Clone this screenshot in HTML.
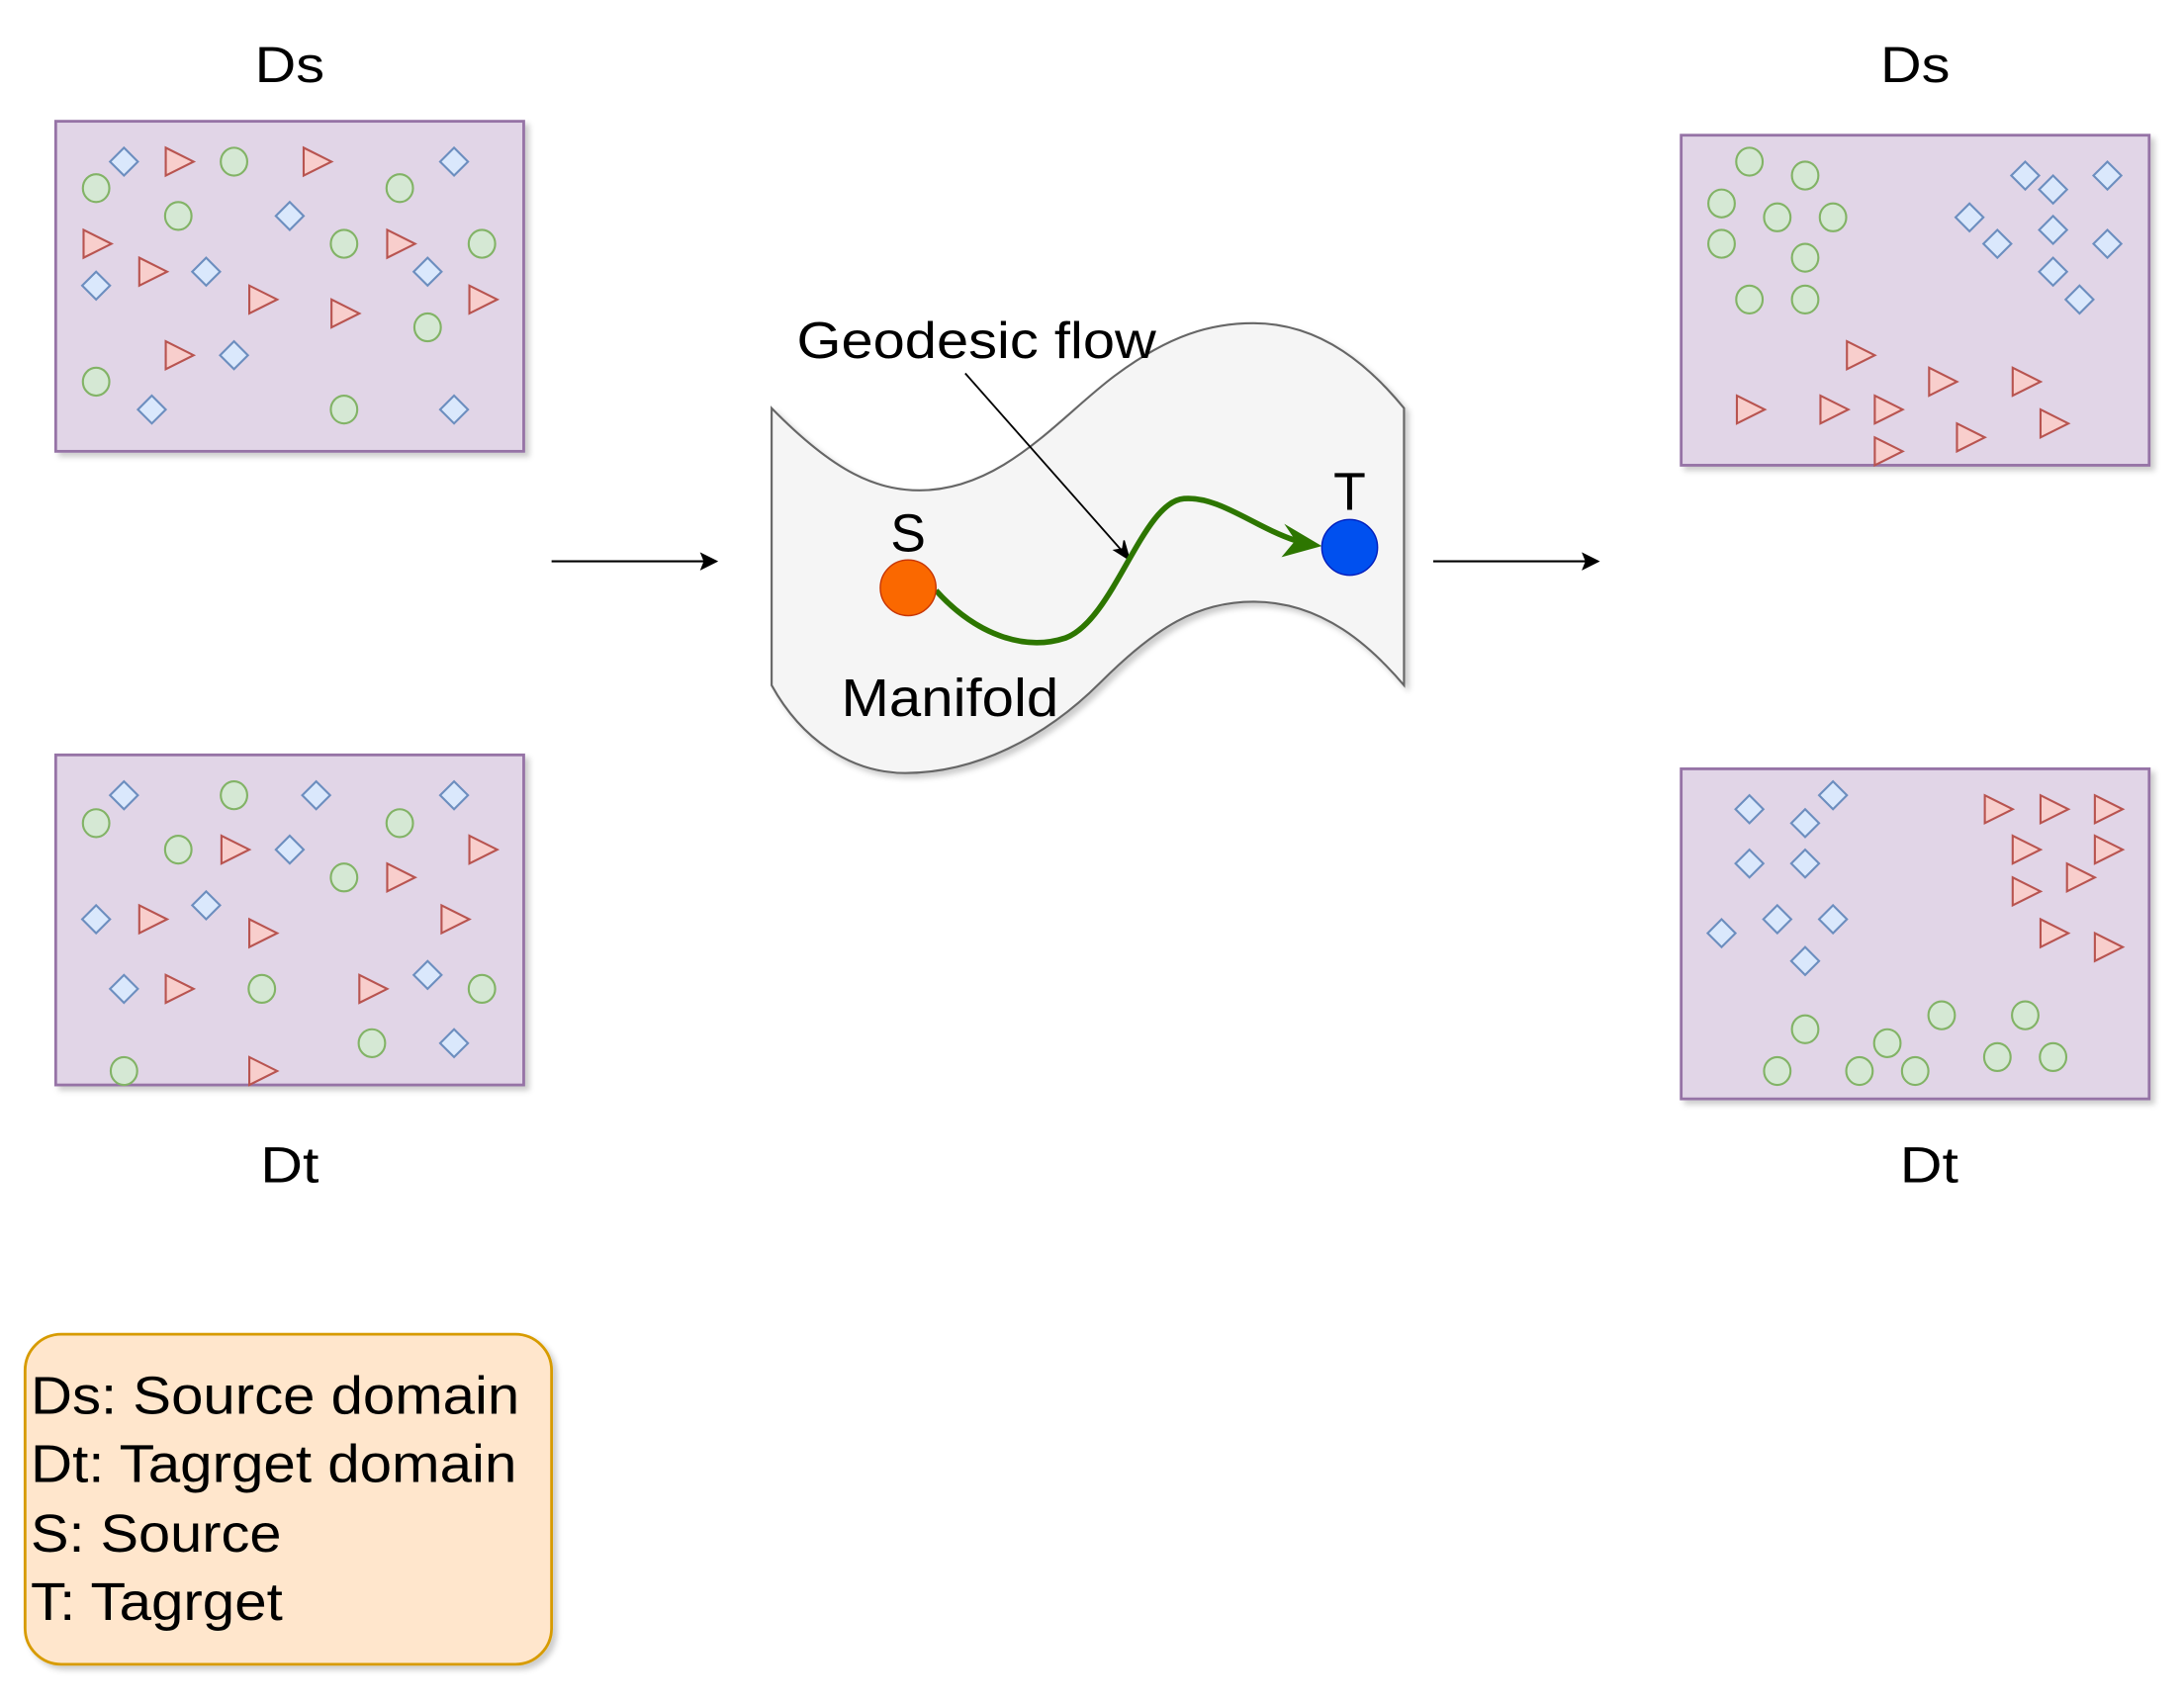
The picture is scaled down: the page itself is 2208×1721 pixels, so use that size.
<!DOCTYPE html>
<html><head><meta charset="utf-8"><style>html,body{margin:0;padding:0;background:#fff}svg{display:block}</style></head>
<body>
<svg width="2208" height="1721" viewBox="0 0 1568 1222" xmlns="http://www.w3.org/2000/svg" xmlns:xlink="http://www.w3.org/1999/xlink" font-family="Liberation Sans, sans-serif">
<defs>
<filter id="sh" x="-10%" y="-10%" width="130%" height="130%"><feDropShadow dx="3" dy="3" stdDeviation="2" flood-color="#000" flood-opacity="0.2"/></filter>
<path id="d" d="M0,-10 L10,0 L0,10 L-10,0Z" fill="#dae8fc" stroke="#6c8ebf" stroke-width="1.5"/>
<path id="t" d="M-9,-10 L11,0 L-9,10Z" fill="#f8cecc" stroke="#b85450" stroke-width="1.5"/>
<ellipse id="c" cx="0" cy="0" rx="9.5" ry="10" fill="#d5e8d4" stroke="#82b366" stroke-width="1.5"/>
</defs>
<g font-size="36" text-anchor="middle" fill="#000">
<text x="208" y="59" textLength="50" lengthAdjust="spacingAndGlyphs">Ds</text>
<text x="1375" y="59" textLength="50" lengthAdjust="spacingAndGlyphs">Ds</text>
<text x="208" y="849" textLength="42" lengthAdjust="spacingAndGlyphs">Dt</text>
<text x="1385" y="849" textLength="42" lengthAdjust="spacingAndGlyphs">Dt</text>
</g>
<g fill="#e1d5e7" stroke="#9673a6" stroke-width="2" filter="url(#sh)">
<rect x="40" y="87" width="336" height="237"/>
<rect x="40" y="542" width="336" height="237"/>
<rect x="1207" y="97" width="336" height="237"/>
<rect x="1207" y="552" width="336" height="237"/>
</g>
<g>
<use href="#d" x="89" y="116"/><use href="#d" x="326" y="116"/><use href="#d" x="208" y="155"/><use href="#d" x="148" y="195"/><use href="#d" x="69" y="205"/><use href="#d" x="307" y="195"/><use href="#d" x="168" y="255"/><use href="#d" x="109" y="294"/><use href="#d" x="326" y="294"/>
<use href="#d" x="89" y="571"/><use href="#d" x="227" y="571"/><use href="#d" x="326" y="571"/><use href="#d" x="208" y="610"/><use href="#d" x="69" y="660"/><use href="#d" x="148" y="650"/><use href="#d" x="89" y="710"/><use href="#d" x="307" y="700"/><use href="#d" x="326" y="749"/>
<use href="#d" x="1454" y="126"/><use href="#d" x="1474" y="136"/><use href="#d" x="1513" y="126"/><use href="#d" x="1414" y="156"/><use href="#d" x="1474" y="165"/><use href="#d" x="1434" y="175"/><use href="#d" x="1513" y="175"/><use href="#d" x="1474" y="195"/><use href="#d" x="1493" y="215"/>
<use href="#d" x="1256" y="581"/><use href="#d" x="1316" y="571"/><use href="#d" x="1296" y="591"/><use href="#d" x="1256" y="620"/><use href="#d" x="1296" y="620"/><use href="#d" x="1236" y="670"/><use href="#d" x="1276" y="660"/><use href="#d" x="1316" y="660"/><use href="#d" x="1296" y="690"/>

<use href="#t" x="128" y="116"/><use href="#t" x="227" y="116"/><use href="#t" x="69" y="175"/><use href="#t" x="109" y="195"/><use href="#t" x="188" y="215"/><use href="#t" x="287" y="175"/><use href="#t" x="247" y="225"/><use href="#t" x="346" y="215"/><use href="#t" x="128" y="255"/>
<use href="#t" x="168" y="610"/><use href="#t" x="346" y="610"/><use href="#t" x="287" y="630"/><use href="#t" x="109" y="660"/><use href="#t" x="188" y="670"/><use href="#t" x="326" y="660"/><use href="#t" x="128" y="710"/><use href="#t" x="267" y="710"/><use href="#t" x="188" y="769"/>
<use href="#t" x="1335" y="255"/><use href="#t" x="1394" y="274"/><use href="#t" x="1454" y="274"/><use href="#t" x="1256" y="294"/><use href="#t" x="1316" y="294"/><use href="#t" x="1355" y="294"/><use href="#t" x="1474" y="304"/><use href="#t" x="1414" y="314"/><use href="#t" x="1355" y="324"/>
<use href="#t" x="1434" y="581"/><use href="#t" x="1474" y="581"/><use href="#t" x="1513" y="581"/><use href="#t" x="1454" y="610"/><use href="#t" x="1513" y="610"/><use href="#t" x="1493" y="630"/><use href="#t" x="1454" y="640"/><use href="#t" x="1474" y="670"/><use href="#t" x="1513" y="680"/>

<use href="#c" x="69" y="135"/><use href="#c" x="168" y="116"/><use href="#c" x="287" y="135"/><use href="#c" x="128" y="155"/><use href="#c" x="247" y="175"/><use href="#c" x="346" y="175"/><use href="#c" x="307" y="235"/><use href="#c" x="69" y="274"/><use href="#c" x="247" y="294"/>
<use href="#c" x="69" y="591"/><use href="#c" x="168" y="571"/><use href="#c" x="287" y="591"/><use href="#c" x="128" y="610"/><use href="#c" x="247" y="630"/><use href="#c" x="188" y="710"/><use href="#c" x="346" y="710"/><use href="#c" x="267" y="749"/><use href="#c" x="89" y="769"/>
<use href="#c" x="1256" y="116"/><use href="#c" x="1296" y="126"/><use href="#c" x="1236" y="146"/><use href="#c" x="1276" y="156"/><use href="#c" x="1316" y="156"/><use href="#c" x="1236" y="175"/><use href="#c" x="1296" y="185"/><use href="#c" x="1256" y="215"/><use href="#c" x="1296" y="215"/>
<use href="#c" x="1296" y="739"/><use href="#c" x="1276" y="769"/><use href="#c" x="1355" y="749"/><use href="#c" x="1335" y="769"/><use href="#c" x="1375" y="769"/><use href="#c" x="1394" y="729"/><use href="#c" x="1454" y="729"/><use href="#c" x="1434" y="759"/><use href="#c" x="1474" y="759"/>
</g>
<g stroke="#000" stroke-width="1.5" fill="#000">
<line x1="396" y1="403" x2="506" y2="403"/><path d="M514,403 L504,398 L506,403 L504,408Z"/>
<line x1="1029" y1="403" x2="1139" y2="403"/><path d="M1147,403 L1137,398 L1139,403 L1137,408Z"/>
</g>
<path d="M554,293 C600,340 630,352 660,352 C720,352 760,300 800,270 C840,240 870,232 900,232 C950,232 985,265 1008,293 L1008,492 C985,465 950,432 900,432 C860,432 830,450 790,490 C750,530 700,555 650,555 C610,555 575,530 554,492 Z" fill="#f5f5f5" stroke="#666" stroke-width="1.5" filter="url(#sh)"/>
<text x="572" y="257" font-size="37" textLength="258" lengthAdjust="spacingAndGlyphs">Geodesic flow</text>
<line x1="693" y1="268" x2="806" y2="396" stroke="#000" stroke-width="1.3"/>
<path d="M811,402 L800,395 L806,394 L807,388Z" fill="#000" stroke="#000"/>
<path d="M672,424 C700,455 735,468 765,458 C800,445 820,360 850,358 C875,356 900,378 930,388" fill="none" stroke="#2d7600" stroke-width="4"/>
<path d="M949,392 L922,376 L930,388 L920,400Z" fill="#2d7600"/>
<circle cx="652" cy="422" r="20" fill="#fa6800" stroke="#c73500" stroke-width="1"/>
<circle cx="969" cy="393" r="20" fill="#0050ef" stroke="#001dbc" stroke-width="1"/>
<text x="652" y="396" font-size="38" text-anchor="middle">S</text>
<text x="969" y="366" font-size="38" text-anchor="middle">T</text>
<text x="604" y="514" font-size="38" textLength="156" lengthAdjust="spacingAndGlyphs">Manifold</text>
<rect x="18" y="958" width="378" height="237" rx="26" fill="#ffe6cc" stroke="#d79b00" stroke-width="2" filter="url(#sh)"/>
<g font-size="38" fill="#000" lengthAdjust="spacingAndGlyphs">
<text x="22" y="1015" textLength="351" lengthAdjust="spacingAndGlyphs">Ds: Source domain</text>
<text x="22" y="1064" textLength="349" lengthAdjust="spacingAndGlyphs">Dt: Tagrget domain</text>
<text x="22" y="1114" textLength="180" lengthAdjust="spacingAndGlyphs">S: Source</text>
<text x="22" y="1163" textLength="181" lengthAdjust="spacingAndGlyphs">T: Tagrget</text>
</g>
</svg>
</body></html>
